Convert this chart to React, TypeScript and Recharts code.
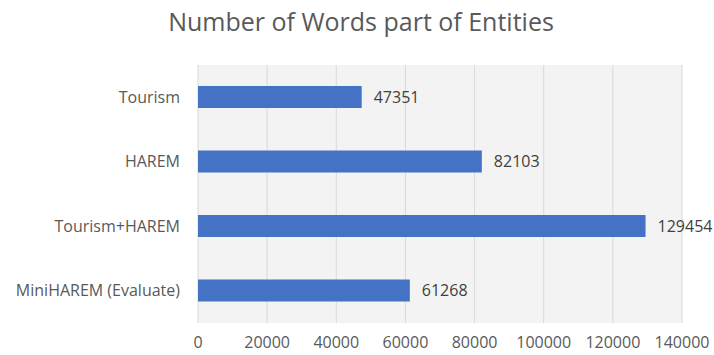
import { BarChart, Bar, XAxis, YAxis, CartesianGrid, LabelList } from 'recharts';

const categories = ['Tourism', 'HAREM', 'Tourism+HAREM', 'MiniHAREM (Evaluate)'];
const wordCounts = [47351, 82103, 129454, 61268];
const xTicks = [0, 20000, 40000, 60000, 80000, 100000, 120000, 140000];

const data = categories.map((name, i) => ({ name, words: wordCounts[i] }));

const FONT = '"Open Sans", sans-serif';

export default function App() {
  return (
    <div style={{ position: 'absolute', left: 0, top: 0, width: 714, height: 355, background: '#fff', fontFamily: FONT }}>
      <div
        style={{
          position: 'absolute',
          left: 0,
          width: 722,
          top: 4,
          textAlign: 'center',
          fontSize: 25,
          color: '#595959',
        }}
      >
        Number of Words part of Entities
      </div>
      <BarChart
        width={714}
        height={355}
        data={data}
        layout="vertical"
        margin={{ top: 65, right: 32, bottom: 0, left: 0 }}
      >
        <CartesianGrid horizontal={false} vertical={true} stroke="#d9d9d9" fill="#f3f3f3" />
        <XAxis
          type="number"
          domain={[0, 140000]}
          ticks={xTicks}
          axisLine={false}
          tickLine={false}
          height={32}
          tickMargin={8}
          tick={{ fill: '#595959', fontSize: 16, fontFamily: FONT }}
        />
        <YAxis
          type="category"
          dataKey="name"
          width={198}
          axisLine={false}
          tickLine={false}
          tickMargin={12}
          tick={{ fill: '#595959', fontSize: 16, fontFamily: FONT }}
        />
        <Bar dataKey="words" fill="#4472c4" isAnimationActive={false} barSize={22}>
          <LabelList dataKey="words" position="right" offset={12} fill="#404040" fontSize={16} fontFamily={FONT} />
        </Bar>
      </BarChart>
    </div>
  );
}
